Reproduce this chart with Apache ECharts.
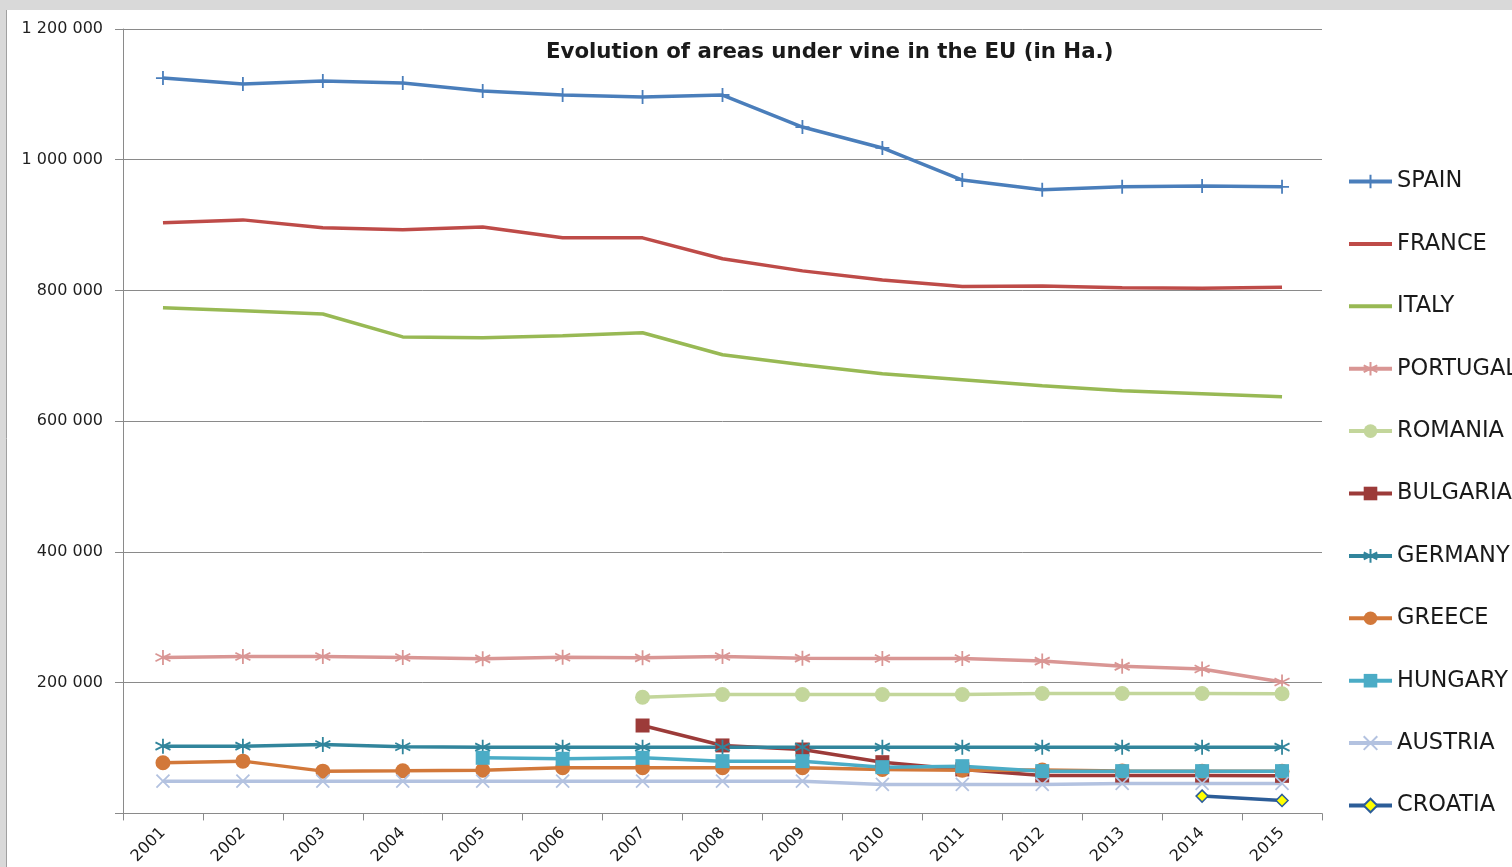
<!DOCTYPE html>
<html>
<head>
<meta charset="utf-8">
<script src="https://cdn.jsdelivr.net/npm/echarts@6/dist/echarts.min.js"></script>
<style>
html,body{margin:0;padding:0;background:#fff;}
#c{width:1512px;height:867px;}
</style>
</head>
<body>
<div id="c"></div>
<script>
const years = ['2001','2002','2003','2004','2005','2006','2007','2008','2009','2010','2011','2012','2013','2014','2015'];
const yTicks = [0, 200000, 400000, 600000, 800000, 1000000, 1200000];

const spain    = [1125000,1116000,1120500,1117500,1105000,1099000,1096000,1099000,1050000,1018000,969000,954000,958500,960000,958500];
const france   = [903500,908000,896000,893000,897000,880500,880500,848500,830000,816000,806000,807000,804000,803500,805000];
const italy    = [773500,769000,764000,729000,727700,730700,735300,701700,686400,672600,663500,654300,646600,642000,637500];
const portugal = [238500,240000,240000,238500,236500,239000,238000,240000,237500,237000,237000,233000,225000,221000,201000];
const romania  = [null,null,null,null,null,null,177800,182000,182000,182000,182000,183500,183500,183500,183000];
const bulgaria = [null,null,null,null,null,null,134500,104000,97800,78400,67300,58100,58000,58000,57500];
const germany  = [102900,102900,105500,102000,101400,101400,101400,101400,101400,101400,101400,101400,101400,101400,101400];
const greece   = [77500,80000,64700,65200,66200,69800,69800,69800,69800,67300,66200,66500,65000,64500,64500];
const hungary  = [null,null,null,null,85100,83600,85100,80000,80000,70800,72300,64700,64700,64700,64700];
const austria  = [49400,49400,49400,49400,49400,49400,49400,49400,49400,44300,44300,44300,45900,45900,45900];
const croatia  = [null,null,null,null,null,null,null,null,null,null,null,null,null,26500,19900];

const PLUS = 'path://M0,5L10,5M5,0L5,10';
const STAR = 'path://M5,0L5,10M0.7,2.5L9.3,7.5M0.7,7.5L9.3,2.5';
const XMARK = 'path://M0,0L10,10M0,10L10,0';

function line(name, data, color, opts) {
  opts = opts || {};
  return {
    name: name,
    type: 'line',
    data: data,
    connectNulls: false,
    symbol: opts.symbol || 'circle',
    symbolSize: opts.size || 12,
    showSymbol: opts.symbol !== undefined,
    lineStyle: { color: color, width: opts.width || 3.5 },
    itemStyle: {
      color: opts.fill || color,
      borderColor: opts.border || color,
      borderWidth: opts.bw !== undefined ? opts.bw : 0,
      opacity: opts.symbol === undefined ? 0 : 1
    },
    emphasis: { disabled: true }
  };
}

const series = [
  line('SPAIN', spain, '#4a7ebb', { symbol: PLUS, size: 14, bw: 1.8 }),
  line('FRANCE', france, '#be4b48'),
  line('ITALY', italy, '#98b954'),
  line('PORTUGAL', portugal, '#d99694', { symbol: STAR, size: 15, bw: 1.8 }),
  line('ROMANIA', romania, '#c3d69b', { symbol: 'circle', size: 15 }),
  line('BULGARIA', bulgaria, '#9c3b39', { symbol: 'rect', size: 14 }),
  line('GERMANY', germany, '#31859c', { symbol: STAR, size: 15, bw: 1.8 }),
  line('GREECE', greece, '#d2783a', { symbol: 'circle', size: 15 }),
  line('HUNGARY', hungary, '#4bacc6', { symbol: 'rect', size: 14 }),
  line('AUSTRIA', austria, '#b3c2e0', { symbol: XMARK, size: 13, bw: 1.8 }),
  line('CROATIA', croatia, '#2c5d98', { symbol: 'diamond', size: 12, fill: '#ffff00', border: '#2c5d98', bw: 1.5 })
];

const chart = echarts.init(document.getElementById('c'), null, { renderer: 'canvas' });
chart.setOption({
  animation: false,
  backgroundColor: '#ffffff',
  title: {
    text: 'Evolution of areas under vine in the EU (in Ha.)',
    left: 546, top: 42,
    padding: 0,
    textStyle: { fontFamily: 'DejaVu Sans', fontWeight: 'bold', fontSize: 21.3, color: '#1a1a1a' }
  },
  graphic: [
    { type: 'rect', shape: { x: 0, y: 0, width: 1512, height: 10 }, style: { fill: '#d9d9d9' }, silent: true },
    { type: 'rect', shape: { x: 0, y: 0, width: 6, height: 867 }, style: { fill: '#d9d9d9' }, silent: true },
    { type: 'line', shape: { x1: 6.5, y1: 10, x2: 6.5, y2: 867 }, style: { stroke: '#a0a0a0', lineWidth: 1 }, silent: true }
  ],
  legend: {
    orient: 'vertical',
    left: 1347, top: 170,
    padding: 0,
    itemWidth: 43, itemHeight: 17,
    itemGap: 39.4,
    lineStyle: { width: 4 },
    textStyle: { fontFamily: 'DejaVu Sans', fontSize: 22.5, lineHeight: 23, color: '#1a1a1a' },
    selectedMode: false
  },
  grid: { left: 123, right: 190, top: 29, bottom: 53, containLabel: false },
  xAxis: {
    type: 'category',
    data: years,
    boundaryGap: true,
    axisLine: { lineStyle: { color: '#8a8a8a', width: 1 } },
    axisTick: { show: true, length: 7, lineStyle: { color: '#8a8a8a' } },
    axisLabel: { rotate: 45, margin: 17, fontFamily: 'DejaVu Sans', fontSize: 16, color: '#1a1a1a' },
    splitLine: { show: false }
  },
  yAxis: {
    type: 'value',
    min: yTicks[0], max: yTicks[yTicks.length - 1], interval: yTicks[1] - yTicks[0],
    axisLine: { show: true, lineStyle: { color: '#8a8a8a', width: 1 } },
    axisTick: { show: true, length: 8, lineStyle: { color: '#8a8a8a' } },
    axisLabel: {
      margin: 20, fontFamily: 'DejaVu Sans', fontSize: 16, color: '#1f1f1f',
      formatter: function (v) { return v === 0 ? '' : String(v).replace(/\B(?=(\d{3})+(?!\d))/g, ' '); }
    },
    splitLine: { show: true, lineStyle: { color: '#8a8a8a', width: 1 } }
  },
  series: series
});
</script>
</body>
</html>
